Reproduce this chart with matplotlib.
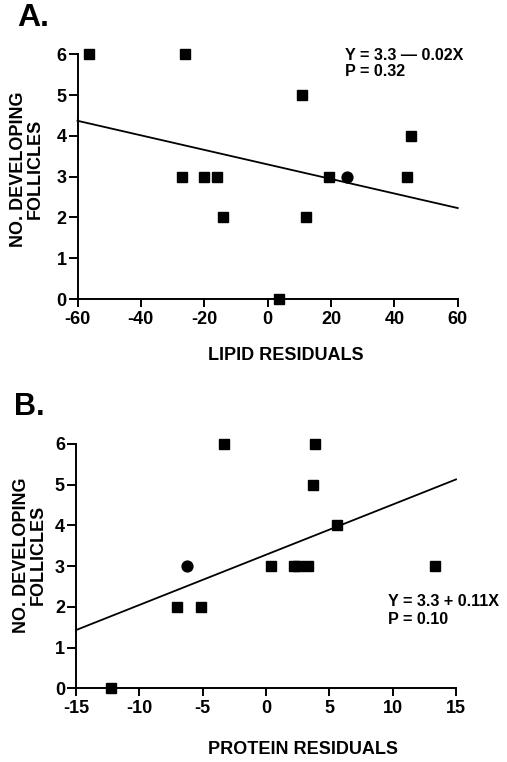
import matplotlib
matplotlib.use("Agg")
import matplotlib.pyplot as plt

plt.rcParams['font.family'] = ['Liberation Sans', 'DejaVu Sans']
plt.rcParams['font.weight'] = 'bold'

# Panel A data (lipid residuals)
lipid_sq_x = [-56.4, -26.2, -27.0, -20.1, -15.9, -14.0, 3.5, 10.7, 12.2, 19.3, 44.0, 45.4]
lipid_sq_y = [6, 6, 3, 3, 3, 2, 0, 5, 2, 3, 3, 4]
lipid_ci_x = [25.1]
lipid_ci_y = [3]
lipid_line_x = [-60, 60]
lipid_line_y = [4.37, 2.23]
lipid_ticks = [-60, -40, -20, 0, 20, 40, 60]

# Panel B data (protein residuals)
prot_sq_x = [-12.2, -7.0, -5.1, -3.35, 0.4, 2.2, 2.5, 3.35, 3.7, 3.9, 5.6, 13.35]
prot_sq_y = [0, 2, 2, 6, 3, 3, 3, 3, 5, 6, 4, 3]
prot_ci_x = [-6.2]
prot_ci_y = [3]
prot_line_x = [-15, 15]
prot_line_y = [1.43, 5.13]
prot_ticks = [-15, -10, -5, 0, 5, 10, 15]

y_ticks = [0, 1, 2, 3, 4, 5, 6]

W, H = 507, 762
fig = plt.figure(figsize=(W / 100, H / 100), dpi=100)


def fx(px):
    return px / W


def fy(py):
    return 1 - py / H


def make_axes(left_px, right_px, top_px, bottom_px):
    return fig.add_axes([fx(left_px), fy(bottom_px),
                         (right_px - left_px) / W, (bottom_px - top_px) / H])


def style(ax, xlim, xticks):
    ax.set_xlim(*xlim)
    ax.set_ylim(0, 6)
    ax.set_xticks(xticks)
    ax.set_xticklabels([str(t) for t in xticks])
    ax.set_yticks(y_ticks)
    ax.set_yticklabels([str(t) for t in y_ticks])
    for s in ['top', 'right']:
        ax.spines[s].set_visible(False)
    for s in ['left', 'bottom']:
        ax.spines[s].set_linewidth(1.4)
    ax.tick_params(axis='x', direction='out', length=5.5, width=1.4, labelsize=13, pad=3)
    ax.tick_params(axis='y', direction='out', length=6.5, width=1.4, labelsize=13, pad=1.5)
    for lab in ax.get_xticklabels() + ax.get_yticklabels():
        lab.set_fontweight('bold')


def txt(x, y, s, size=13, **kw):
    fig.text(fx(x), fy(y), s, fontsize=size, fontweight='bold', **kw)


# Panel A
axA = make_axes(77.5, 457.7, 54.3, 299)
axA.plot(lipid_line_x, lipid_line_y, color='black', lw=1.3, clip_on=False)
axA.plot(lipid_sq_x, lipid_sq_y, 's', color='black', ms=7.5, clip_on=False, zorder=5)
axA.plot(lipid_ci_x, lipid_ci_y, 'o', color='black', ms=7.8, clip_on=False, zorder=5)
style(axA, (-60, 60), lipid_ticks)
txt(286, 355, 'LIPID RESIDUALS', ha='center', va='center')
txt(19, 169, 'NO. DEVELOPING', rotation=90, ha='center', va='center')
txt(35.5, 169, 'FOLLICLES', rotation=90, ha='center', va='center')
txt(345, 56, 'Y = 3.3 — 0.02X', size=11.6, ha='left', va='center')
txt(345, 71, 'P = 0.32', size=11.6, ha='left', va='center')
txt(17, 18, 'A.', size=23, ha='left', va='center')

# Panel B
axB = make_axes(76, 456, 444, 688.3)
axB.plot(prot_line_x, prot_line_y, color='black', lw=1.3, clip_on=False)
axB.plot(prot_sq_x, prot_sq_y, 's', color='black', ms=7.5, clip_on=False, zorder=5)
axB.plot(prot_ci_x, prot_ci_y, 'o', color='black', ms=7.8, clip_on=False, zorder=5)
style(axB, (-15, 15), prot_ticks)
txt(303, 750, 'PROTEIN RESIDUALS', ha='center', va='center')
txt(22, 555, 'NO. DEVELOPING', rotation=90, ha='center', va='center')
txt(38.5, 555, 'FOLLICLES', rotation=90, ha='center', va='center')
txt(388, 601, 'Y = 3.3 + 0.11X', size=11.6, ha='left', va='center')
txt(388, 619, 'P = 0.10', size=11.6, ha='left', va='center')
txt(14, 407, 'B.', size=22, ha='left', va='center')

fig.savefig('out.png', dpi=100, facecolor='white')
